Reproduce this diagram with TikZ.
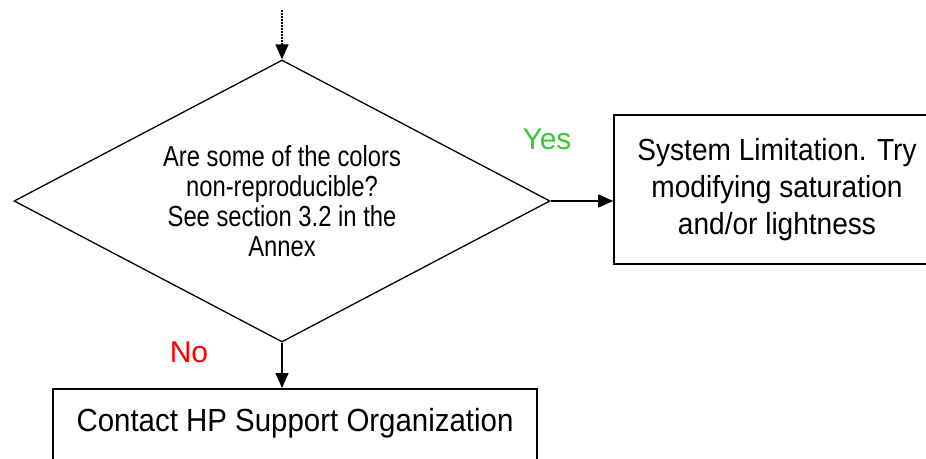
\documentclass[tikz,border=0pt]{standalone}
\usepackage{fontspec}
\setmainfont{Liberation Sans}
\newfontfamily\qfont[FakeStretch=0.82]{Liberation Sans}
\newfontfamily\boxfont[FakeStretch=0.92]{Liberation Sans}
\usetikzlibrary{shapes.geometric,arrows.meta}
\definecolor{yesgreen}{RGB}{51,204,51}

\begin{document}
\begin{tikzpicture}
  [x=1pt,y=-1pt,line width=1.3pt,
   tip/.style={-{Triangle[width=13pt,length=15pt]}},
   box/.style={draw,line width=1.6pt,align=center,font=\boxfont\fontsize{30.5}{37}\selectfont}]
  \useasboundingbox (0,0) rectangle (926,458);
  \clip (0,0) rectangle (926,458);

  \coordinate (start) at (282,10);
  \node (q) at (282,201) [diamond,draw,aspect=1.9,inner sep=0pt,
    minimum width=536pt,minimum height=282pt,align=center,
    font=\qfont\fontsize{29}{30}\selectfont]
    {Are some of the colors\\non-reproducible?\\See section 3.2 in the\\Annex};
  \node (sys) at (777,189.5) [box,minimum width=326pt,minimum height=149pt]
    {System Limitation. Try\\modifying saturation\\and/or lightness};
  \node (contact) at (295,388) [box,anchor=north,minimum width=484pt,
    inner ysep=20pt,text depth=50pt,font=\boxfont\fontsize{32}{38}\selectfont]
    {Contact HP Support Organization};
  \node (yes) at (547,149) [anchor=base,text=yesgreen,font=\fontsize{30}{36}\selectfont] {Yes};
  \node (no) at (189,362) [anchor=base,text=red,font=\fontsize{30}{36}\selectfont] {No};

  \draw[tip,dash pattern=on 1.5pt off 1.5pt] (start) -- (q.north);
  \draw[tip] (q.east) -- (q.east -| sys.west);
  \draw[tip] (q.south) -- (q.south |- contact.north);

\end{tikzpicture}
\end{document}
